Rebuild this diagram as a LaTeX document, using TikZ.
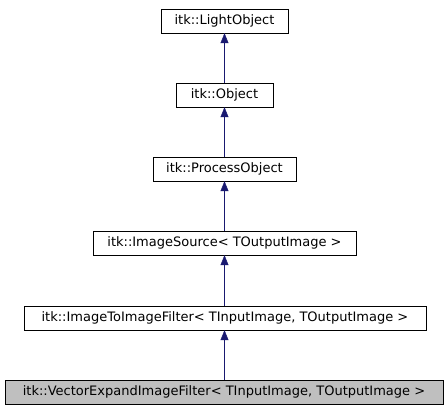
\documentclass[tikz,border=0pt]{standalone}
\usepackage{fontspec}
\setmainfont{DejaVu Sans}
\usetikzlibrary{arrows.meta}
\definecolor{edgeblue}{HTML}{191970}
\definecolor{boxgray}{HTML}{BFBFBF}

\begin{document}
\begin{tikzpicture}[x=1pt,y=-1pt,
  classbox/.style={draw=black,fill=white,minimum height=24pt,inner sep=0pt,
    font=\fontsize{13}{15}\selectfont},
  inherit/.style={draw=edgeblue,-{Triangle[length=10pt,width=8pt]}}]
  % Page size
  \useasboundingbox (0,0) rectangle (448,411);

  % Class boxes, top to bottom
  \node[classbox,minimum width=127pt] (light) at (224.5,21) {itk::LightObject};
  \node[classbox,minimum width=97pt] (object) at (224.5,95) {itk::Object};
  \node[classbox,minimum width=143pt] (process) at (224.5,169) {itk::ProcessObject};
  \node[classbox,minimum width=263pt] (source) at (224.5,243) {itk::ImageSource< TOutputImage >};
  \node[classbox,minimum width=402pt] (imgfilter) at (225,318) {itk::ImageToImageFilter< TInputImage, TOutputImage >};
  \node[classbox,fill=boxgray,minimum width=438pt] (vecfilter) at (224,392) {itk::VectorExpandImageFilter< TInputImage, TOutputImage >};

  % Inheritance arrows
  \draw[inherit] (object) -- (light);
  \draw[inherit] (process) -- (object);
  \draw[inherit] (source) -- (process);
  \draw[inherit] (imgfilter.north -| source.south) -- (source);
  \draw[inherit] (vecfilter.north -| source.south) -- (imgfilter.south -| source.south);
\end{tikzpicture}
\end{document}
